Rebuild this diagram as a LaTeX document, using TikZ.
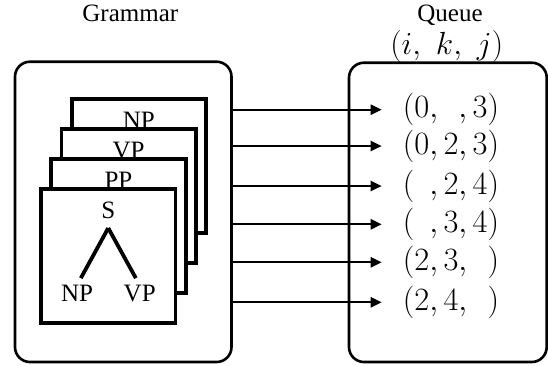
\documentclass[tikz,border=0pt]{standalone}
\usepackage{fix-cm}
\usepackage{fontspec}
\newfontfamily\tnr{Liberation Serif}
\usetikzlibrary{arrows.meta}
\begin{document}
\begin{tikzpicture}[x=1pt,y=-1pt,
  outer/.style={draw, line width=2.6pt, rounded corners=15pt, inner sep=0pt},
  card/.style={draw, fill=white, line width=3.8pt, minimum size=134.3pt, inner sep=0pt},
  lbl/.style={font=\tnr\fontsize{25}{30}\selectfont, inner sep=0pt, anchor=base},
  tree/.style={line width=3.8pt},
  arr/.style={line width=2.3pt, -{Triangle[length=11pt,width=10pt]}},
  tup/.style={font=\fontsize{32.5}{38}\selectfont, anchor=west, inner xsep=21pt, inner ysep=0pt},
  mathlbl/.style={font=\fontsize{32}{38}\selectfont, inner sep=0pt, anchor=base}]
\useasboundingbox (0,0) rectangle (548,365);
% headings
\node[lbl] (gram) at (130.3,21) {Grammar};
\node[lbl] (queue) at (450,21.7) {Queue};
\node[mathlbl] (ikj) at (446.7,54) {$(i,\ k,\ j)$};
% outer boxes
\node[outer, minimum width=216.5pt, minimum height=300.3pt] (lbox) at (123.25,211.85) {};
\node[outer, minimum width=197.7pt, minimum height=299.3pt] (rbox) at (447.85,212.35) {};
% stacked cards
\node[card] (c1) at (138.85,166.15) {};
\node[lbl] (l1) at ([yshift=-31.5pt]c1.north) {NP};
\node[card] (c2) at (128.65,196.15) {};
\node[lbl] (l2) at ([yshift=-31.5pt]c2.north) {VP};
\node[card] (c3) at (118.45,226.15) {};
\node[lbl] (l3) at ([yshift=-31.5pt]c3.north) {PP};
\node[card] (c4) at (108.25,256.15) {};
\node[lbl] (s) at ([yshift=-31pt]c4.north) {S};
% tree
\node[lbl] (tnp) at (77,301.7) {NP};
\node[lbl] (tvp) at (139.7,301.7) {VP};
\coordinate (apex) at ([yshift=-9.5pt]s.south);
\draw[tree, shorten >=8pt] (apex) -- (tnp.north);
\draw[tree, shorten >=8pt] (apex) -- (tvp.north);
% queue entries
\node[tup] (t1) at (381.7,109.7) {$(0,\phantom{2},3)$};
\node[tup] (t2) at (381.7,146) {$(0,2,3)$};
\node[tup] (t3) at (381.7,186) {$(\phantom{0},2,4)$};
\node[tup] (t4) at (381.7,224.3) {$(\phantom{0},3,4)$};
\node[tup] (t5) at (381.7,262.3) {$(2,3,\phantom{4})$};
\node[tup] (t6) at (381.7,302.3) {$(2,4,\phantom{4})$};
\foreach \t in {t1,t2,t3,t4,t5,t6}
  \draw[arr] (lbox.east |- \t.west) -- (\t.west);
\end{tikzpicture}
\end{document}
